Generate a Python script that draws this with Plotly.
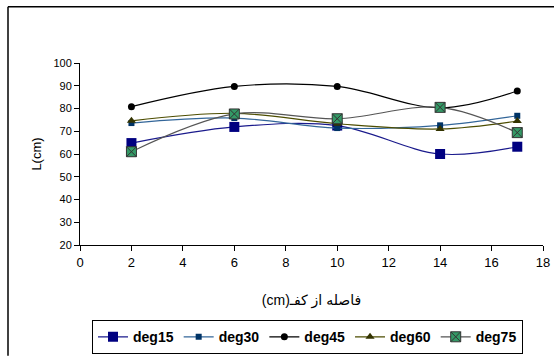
import plotly.graph_objects as go

x_vals = [2, 6, 10, 14, 17]
deg15 = [64.8, 71.9, 72.5, 60.0, 63.2]
deg30 = [73.6, 75.8, 71.4, 72.6, 76.8]
deg45 = [80.8, 89.7, 89.7, 80.3, 87.7]
deg60 = [74.6, 77.9, 73.3, 71.0, 74.5]
deg75 = [61.0, 77.6, 75.5, 80.5, 69.4]

x_title = "(cm)فاصله از کفـ"
y_title = "L(cm)"

series = [
    ("deg15", deg15, dict(symbol="square", size=10, color="#000080", line=dict(width=0)), "#1a1a8c"),
    ("deg30", deg30, dict(symbol="square", size=6, color="#003366", line=dict(width=0)), "#336699"),
    ("deg45", deg45, dict(symbol="circle", size=7, color="#000000", line=dict(width=0)), "#000000"),
    ("deg60", deg60, dict(symbol="triangle-up", size=8, color="#333300", line=dict(width=0)), "#4d4d00"),
    ("deg75", deg75, dict(symbol="square-x", size=10, color="#339966", line=dict(width=1, color="#333333")), "#555555"),
]

fig = go.Figure()
for name, vals, mk, lc in series:
    fig.add_trace(go.Scatter(
        x=x_vals, y=vals, name=name, mode="lines+markers",
        line=dict(color=lc, width=1.2, shape="spline", smoothing=1.0),
        marker=mk,
    ))

font_family = "Liberation Sans, Arial, DejaVu Sans, sans-serif"

W, H = 554, 356
PL, PR, PT, PB = 80, 543, 63.3, 245.3
px = lambda v: (v - PL) / (PR - PL)
py = lambda v: (PB - v) / (PB - PT)

fig.update_layout(
    width=W, height=H,
    margin=dict(l=PL, r=W - PR, t=PT, b=H - PB, autoexpand=False),
    paper_bgcolor="white", plot_bgcolor="white",
    font=dict(family=font_family, size=11, color="black"),
    showlegend=True,
    legend=dict(
        orientation="h", x=px(92), xanchor="left", y=py(354.5), yanchor="bottom",
        bordercolor="black", borderwidth=1, bgcolor="white",
        font=dict(size=14, family=font_family, weight="bold"),
        itemwidth=30, tracegroupgap=0, maxheight=60,
    ),
    xaxis=dict(
        range=[0, 18], dtick=2, tick0=0, showgrid=False, zeroline=False,
        showline=True, linecolor="black", linewidth=1,
        ticks="outside", ticklen=5, tickcolor="black",
        tickfont=dict(size=13), automargin=False,
        title=dict(text=x_title, font=dict(size=14), standoff=26),
    ),
    yaxis=dict(
        range=[20, 100], dtick=10, tick0=20, showgrid=False, zeroline=False,
        showline=True, linecolor="black", linewidth=1,
        ticks="outside", ticklen=5, tickcolor="black",
        tickfont=dict(size=11), automargin=False,
        title=dict(text=y_title, font=dict(size=13), standoff=8),
    ),
    shapes=[
        dict(type="line", xref="paper", yref="paper",
             x0=px(8), x1=px(W), y0=py(7), y1=py(7),
             line=dict(color="black", width=1.5), layer="below"),
        dict(type="line", xref="paper", yref="paper",
             x0=px(8), x1=px(8), y0=py(7), y1=py(H),
             line=dict(color="black", width=1.5), layer="below"),
        dict(type="rect", xref="paper", yref="paper",
             x0=px(547), x1=px(W), y0=py(8.5), y1=py(250),
             line=dict(width=0), fillcolor="white", layer="above"),
        dict(type="rect", xref="paper", yref="paper",
             x0=px(547), x1=px(W), y0=py(268), y1=py(H),
             line=dict(width=0), fillcolor="white", layer="above"),
    ],
)

fig.write_html("out.html")
